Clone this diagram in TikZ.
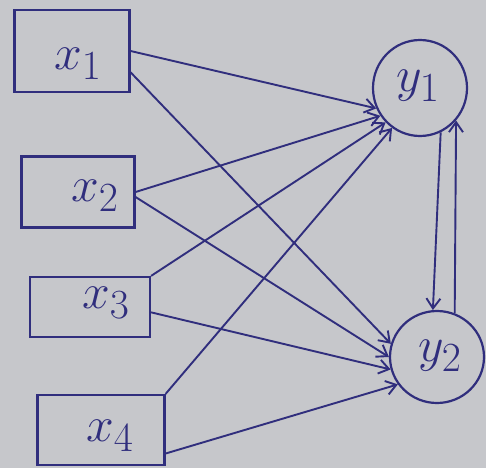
\documentclass[tikz,border=0pt]{standalone}
\usepackage{graphicx}
\usetikzlibrary{arrows.meta,shapes.geometric}
\definecolor{paper}{RGB}{198,199,203}
\definecolor{ink}{RGB}{48,46,125}
\newcommand{\biglbl}[1]{\scalebox{2}{\Huge$#1$}}
\begin{document}
\begin{tikzpicture}[x=1pt,y=-1pt,
  xbox/.style={draw=ink,line width=2.2pt,inner sep=0pt},
  lbl/.style={text=ink,inner sep=0pt},
  ycirc/.style={draw=ink,line width=2.2pt,ellipse,inner sep=0pt},
  conn/.style={draw=ink,line width=1.9pt,-{Straight Barb[length=10pt,width=14pt]}}]
\fill[paper] (0,0) rectangle (486,468);
\useasboundingbox (0,0) rectangle (486,468);
\node[xbox,minimum width=115pt,minimum height=82pt] (x1) at (72,51) {};
\node[xbox,minimum width=113pt,minimum height=71pt] (x2) at (78,192) {};
\node[xbox,minimum width=120pt,minimum height=60pt] (x3) at (90,307) {};
\node[xbox,minimum width=127pt,minimum height=70pt] (x4) at (101,430) {};
\node[ycirc,minimum width=94pt,minimum height=96pt] (y1) at (420,88) {};
\node[ycirc,minimum width=94pt,minimum height=92pt] (y2) at (437,357) {};
\node[lbl] (lx1) at (78,64) {\biglbl{x_1}};
\node[lbl] (lx2) at (95,196) {\biglbl{x_2}};
\node[lbl] (lx3) at (106,303) {\biglbl{x_3}};
\node[lbl] (lx4) at (110,436) {\biglbl{x_4}};
\node[lbl] (ly1) at (418,86) {\biglbl{y_1}};
\node[lbl] (ly2) at (440,356) {\biglbl{y_2}};
\draw[conn] (x1.east) -- (y1.205);
\draw[conn] (x1.-20) -- (y2.164);
\draw[conn] (x2.east) -- (y1.215);
\draw[conn] (x2.-5) -- (y2.180);
\draw[conn] (x3.north east) -- (y1.225);
\draw[conn] (x3.-5) -- (y2.195);
\draw[conn] (x4.north east) -- (y1.235);
\draw[conn] (x4.-20) -- (y2.215);
\draw[conn] (y1.295) -- (y2.95);
\draw[conn] (y2.68) -- (y1.318);
\end{tikzpicture}
\end{document}
